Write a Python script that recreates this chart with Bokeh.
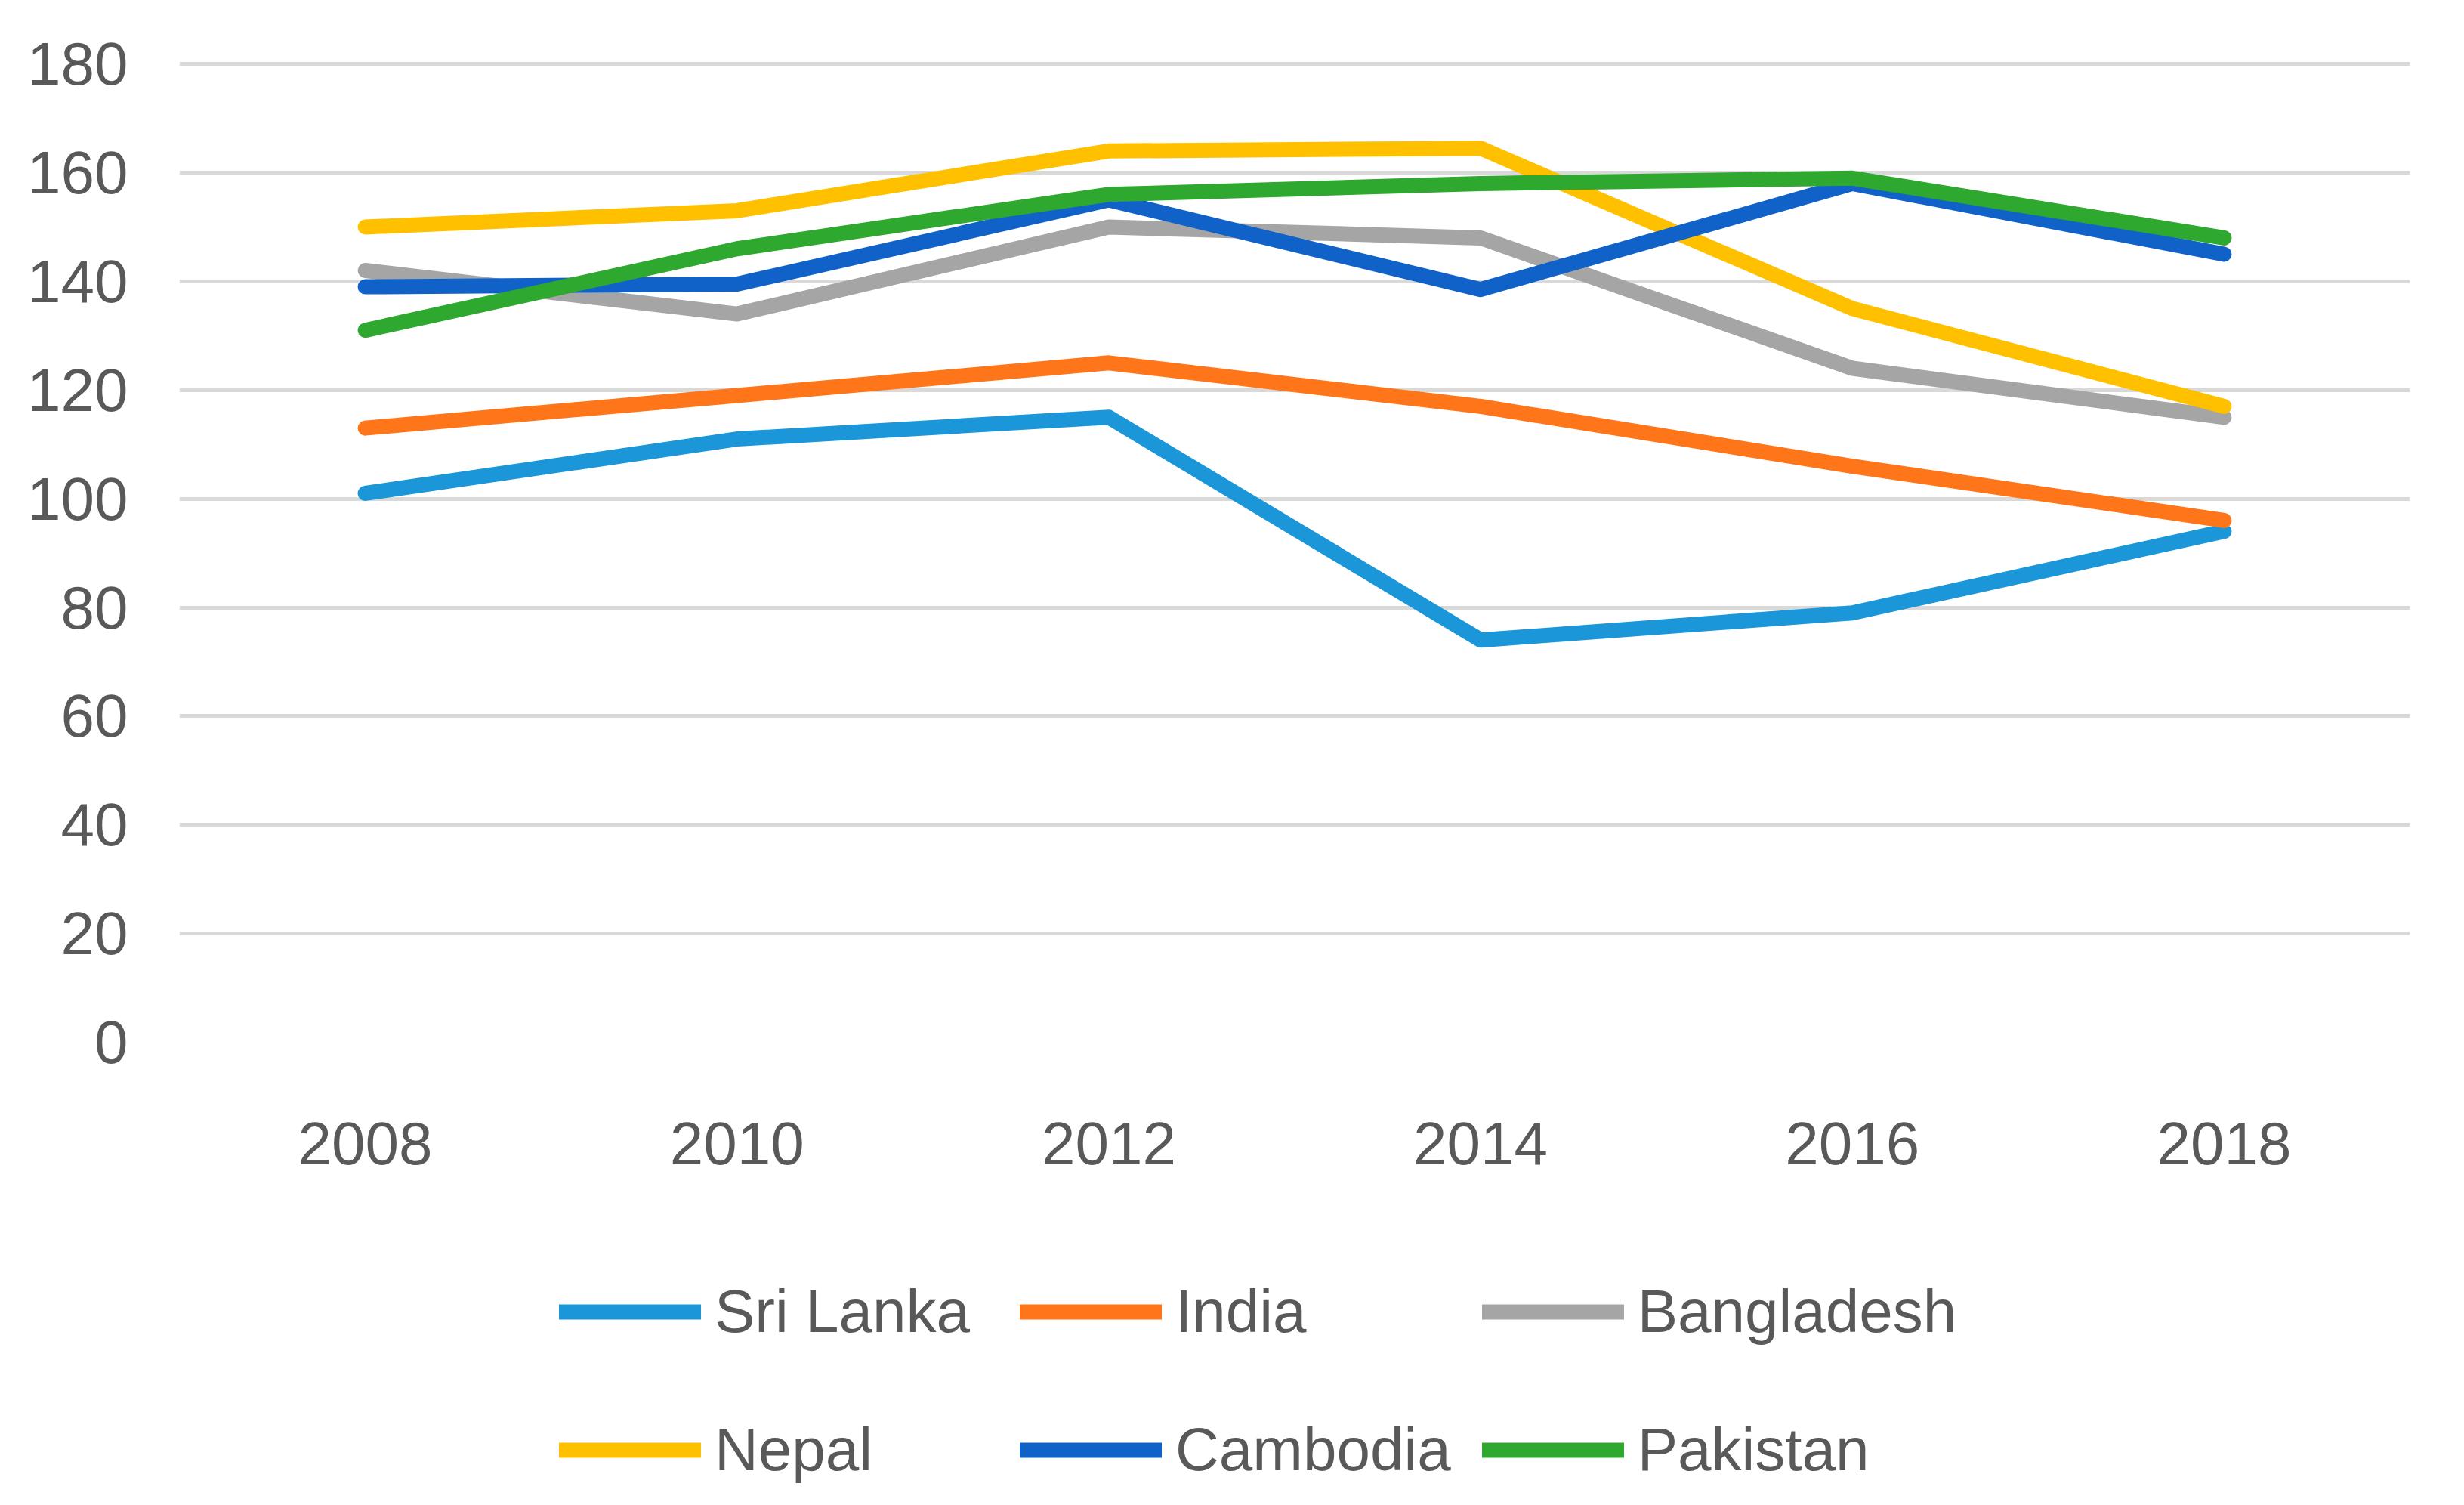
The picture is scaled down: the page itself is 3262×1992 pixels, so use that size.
from bokeh.plotting import figure
from bokeh.layouts import column
from bokeh.models import FactorRange, Range1d, FixedTicker, Legend, LegendItem
from bokeh.embed import file_html
from bokeh.resources import INLINE

years = ["2008", "2010", "2012", "2014", "2016", "2018"]
sri_lanka = [101, 111, 115, 74, 79, 94]
india = [113, 119, 125, 117, 106, 96]
bangladesh = [142, 134, 150, 148, 124, 115]
nepal = [150, 153, 164, 164.5, 135, 117]
cambodia = [139, 139.5, 155, 138.5, 158, 145]
pakistan = [131, 146, 156, 158, 159, 148]
y_ticks = [0, 20, 40, 60, 80, 100, 120, 140, 160, 180]

series = [
    ("Sri Lanka", sri_lanka, "#1A96D9"),
    ("India", india, "#FF7519"),
    ("Bangladesh", bangladesh, "#A5A5A5"),
    ("Nepal", nepal, "#FFC000"),
    ("Cambodia", cambodia, "#1062C8"),
    ("Pakistan", pakistan, "#2EA82E"),
]

FONT = "Liberation Sans"
TXT = "#595959"
FS = "80px"
LW = 20

W = 3240
H_MAIN = 1600
H_LEG = 376

p = figure(width=W, height=H_MAIN,
           x_range=FactorRange(*years, range_padding=0),
           y_range=Range1d(0, 181),
           output_backend="svg", toolbar_location=None,
           min_border_left=237, min_border_right=50,
           min_border_top=77, min_border_bottom=H_MAIN - 1379)

p.outline_line_color = None
p.xgrid.grid_line_color = None
p.ygrid.grid_line_color = "#D9D9D9"
p.ygrid.grid_line_width = 5
p.yaxis.ticker = FixedTicker(ticks=y_ticks)

for ax in (p.xaxis, p.yaxis):
    ax.axis_line_color = None
    ax.major_tick_line_color = None
    ax.minor_tick_line_color = None
    ax.major_tick_out = 0
    ax.major_tick_in = 0
    ax.major_label_text_font = FONT
    ax.major_label_text_font_size = FS
    ax.major_label_text_color = TXT
p.yaxis.major_label_standoff = 68
p.xaxis.major_label_standoff = 106

for name, vals, color in series:
    p.line(years, vals, line_color=color, line_width=LW,
           line_cap="round", line_join="round")

# legend panel: a second figure whose view hides its own copies of the lines
lg = figure(width=W, height=H_LEG,
            x_range=FactorRange(*years, range_padding=0),
            y_range=Range1d(1000, 1001),
            output_backend="svg", toolbar_location=None,
            min_border=0)
lg.axis.visible = False
lg.grid.visible = False
lg.outline_line_color = None

items = []
for name, vals, color in series:
    r = lg.line(years, vals, line_color=color, line_width=LW,
                line_cap="round", line_join="round")
    items.append(LegendItem(label=name, renderers=[r]))

legend = Legend(items=items, location=(503, -14), orientation="horizontal",
                ncols=3, glyph_width=188, glyph_height=142,
                label_height=142, label_width=363, label_standoff=18,
                spacing=41, padding=0, margin=0,
                border_line_color=None, background_fill_alpha=0,
                label_text_font=FONT, label_text_font_size=FS,
                label_text_color=TXT)
lg.add_layout(legend)

page = column(p, lg, spacing=0)
open("out.html", "w").write(file_html(page, INLINE))
